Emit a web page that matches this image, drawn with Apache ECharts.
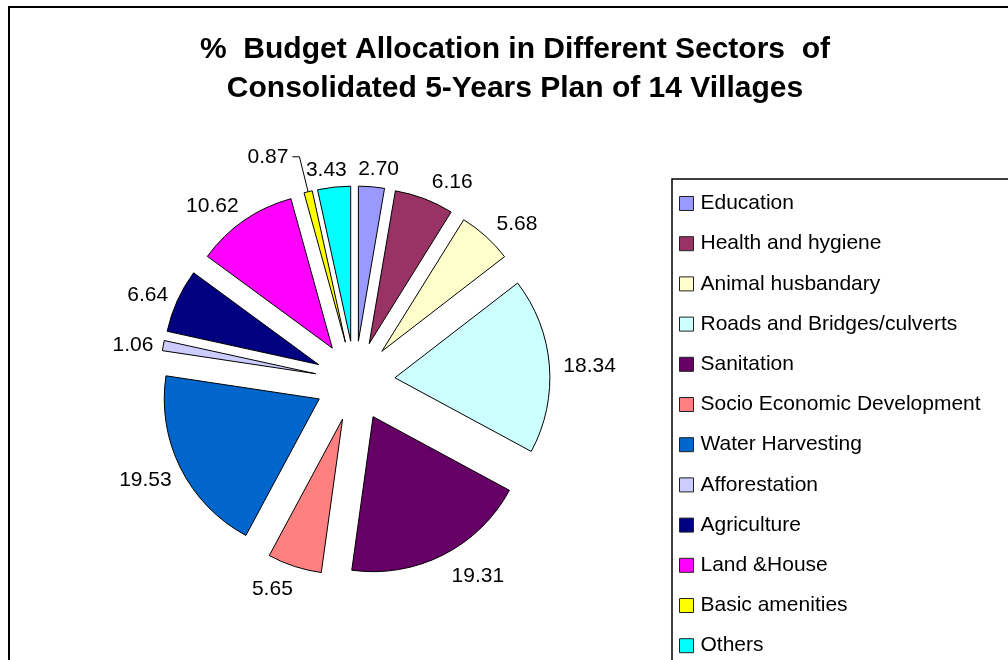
<!DOCTYPE html>
<html>
<head>
<meta charset="utf-8">
<script src="https://cdn.jsdelivr.net/npm/echarts@6/dist/echarts.min.js"></script>
<style>
  html, body { margin: 0; padding: 0; background: #fff; }
  #chart { width: 1008px; height: 660px; }
</style>
</head>
<body>
<div id="chart"></div>
<script>
// Sector names and their share (%) of the consolidated 5-year plan budget
const sectors = [
  'Education', 'Health and hygiene', 'Animal husbandary', 'Roads and Bridges/culverts',
  'Sanitation', 'Socio Economic Development', 'Water Harvesting', 'Afforestation',
  'Agriculture', 'Land &House', 'Basic amenities', 'Others'
];
const shares = [2.70, 6.16, 5.68, 18.34, 19.31, 5.65, 19.53, 1.06, 6.64, 10.62, 0.87, 3.43];
const sectorColors = [
  '#9999FF', '#993366', '#FFFFCC', '#CCFFFF', '#660066', '#FF8080',
  '#0066CC', '#CCCCFF', '#000080', '#FF00FF', '#FFFF00', '#00FFFF'
];
const titleLines = ['%  Budget Allocation in Different Sectors  of', 'Consolidated 5-Years Plan of 14 Villages'];

const FONT = '"Liberation Sans", Arial, Helvetica, sans-serif';
const LABEL_GAP = 10;

// mid angle of every wedge, measured clockwise from 12 o'clock
const total = shares.reduce((a, b) => a + b, 0);
const midAngles = [];
let acc = 0;
shares.forEach(v => { midAngles.push((acc + v / 2) / total * 2 * Math.PI); acc += v; });

const pieData = sectors.map((name, i) => {
  const item = {
    name: name,
    value: shares[i],
    selected: true,
    itemStyle: { color: sectorColors[i] }
  };
  // the thinnest wedge gets a leader line to its label
  if (name === 'Basic amenities') {
    item.labelLine = { show: true, length: 36, length2: 7, lineStyle: { color: '#000', width: 1 } };
    item.label = { distanceToLabelLine: 4 };
  }
  return item;
});

const chart = echarts.init(document.getElementById('chart'), null, { renderer: 'canvas' });

chart.setOption({
  animation: false,
  backgroundColor: '#fff',
  graphic: [
    { type: 'rect', shape: { x: 9, y: 7, width: 1200, height: 800 },
      style: { fill: 'none', stroke: '#000', lineWidth: 2 }, silent: true },
    { type: 'rect', shape: { x: 672, y: 179, width: 600, height: 600 },
      style: { fill: 'none', stroke: '#000', lineWidth: 1.5 }, silent: true },
    { type: 'text', x: 515, y: 50,
      style: { text: titleLines[0], font: 'bold 30px ' + FONT, fill: '#000',
               textAlign: 'center', textVerticalAlign: 'middle' }, silent: true },
    { type: 'text', x: 515, y: 89,
      style: { text: titleLines[1], font: 'bold 30px ' + FONT, fill: '#000',
               textAlign: 'center', textVerticalAlign: 'middle' }, silent: true }
  ],
  legend: {
    orient: 'vertical',
    left: 679,
    top: 193,
    padding: 0,
    itemWidth: 14,
    itemHeight: 14,
    itemGap: 19.2,
    icon: 'rect',
    selectedMode: false,
    data: sectors,
    itemStyle: { borderColor: '#222', borderWidth: 1 },
    textStyle: { fontFamily: FONT, fontSize: 21, color: '#000', lineHeight: 21, padding: [0, 0, 0, 2] }
  },
  series: [{
    type: 'pie',
    center: [355, 381],
    radius: [0, 155],
    startAngle: 90,
    clockwise: true,
    selectedMode: 'multiple',
    selectedOffset: 40,
    avoidLabelOverlap: false,
    emphasis: { disabled: true },
    itemStyle: { borderColor: '#000', borderWidth: 1 },
    label: {
      show: true,
      position: 'outside',
      formatter: p => p.value.toFixed(2),
      fontFamily: FONT,
      fontSize: 21,
      color: '#000',
      distanceToLabelLine: 0
    },
    labelLine: { show: false, length: 0, length2: 0 },
    // push each label just clear of its wedge's rim, centred on the wedge direction
    labelLayout: function (params) {
      if (sectors[params.dataIndex] === 'Basic amenities') return {};
      const a = midAngles[params.dataIndex];
      const ux = Math.sin(a), uy = -Math.cos(a);
      const w = params.labelRect.width, h = params.labelRect.height;
      const f = Math.max(-1, Math.min(1, ux * 3));
      const s = ux < 0 ? -1 : 1;
      return {
        dx: LABEL_GAP * ux + w / 2 * (f - s) + 4 * Math.max(0, f),
        dy: LABEL_GAP * uy + h / 2 * uy + 3
      };
    },
    data: pieData
  }]
});
</script>
</body>
</html>
